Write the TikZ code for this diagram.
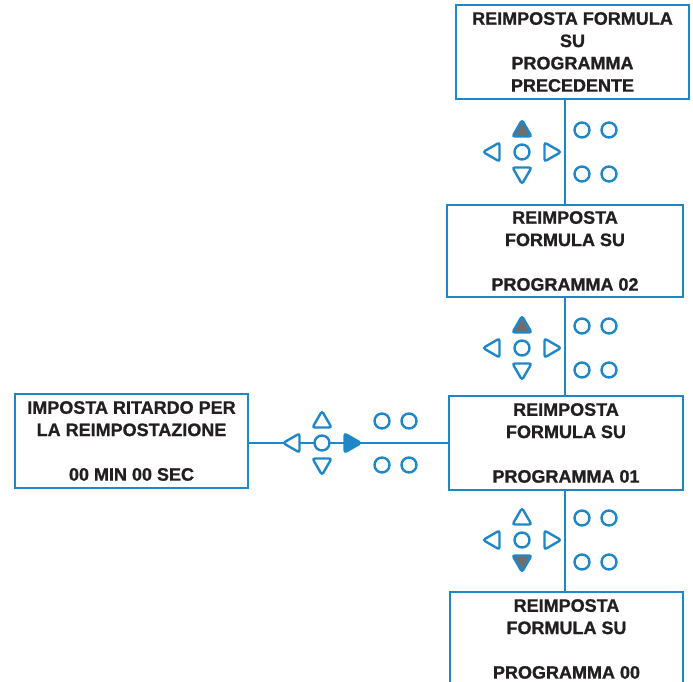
\documentclass[tikz,border=0pt]{standalone}
\usepackage{fontspec}
\setmainfont{Liberation Sans}[BoldFeatures={FakeBold=1}]
\usetikzlibrary{positioning, shapes.geometric, calc}
\definecolor{panelblue}{HTML}{1E87C8}
\definecolor{keygray}{HTML}{6E6E6E}
\definecolor{ink}{HTML}{231F20}
\tikzset{
    screen/.style={draw=panelblue, line width=2.7pt, fill=white, minimum height=94pt, align=center, text=ink, inner sep=0pt, font=\bfseries\fontsize{18}{22.3}\selectfont, execute at begin node={\rule{0pt}{17pt}}},
    wire/.style={draw=panelblue, line width=2.5pt},
    btn/.style={circle, draw=panelblue, line width=2.4pt, fill=white, minimum size=15pt, inner sep=0pt},
    tri/.style={regular polygon, regular polygon sides=3, draw=panelblue, line width=2.4pt, fill=white, minimum size=22pt, inner sep=0pt, rounded corners=2.5pt},
    pressed/.style={fill=keygray},
    active/.style={fill=panelblue},
}
\begin{document}
\begin{tikzpicture}[x=1pt, y=-1pt]
    \path[use as bounding box] (0,0) rectangle (693,682);

    % screens
    \node[screen, minimum width=233pt] (prev) at (572.5,52) {REIMPOSTA FORMULA\\SU\\PROGRAMMA\\PRECEDENTE};
    \node[screen, minimum width=236pt, minimum height=92pt] (prog02) at (565,251) {REIMPOSTA\\FORMULA SU\\[22.3pt]PROGRAMMA 02};
    \node[screen, minimum width=234pt] (prog01) at (566,443) {REIMPOSTA\\FORMULA SU\\[22.3pt]PROGRAMMA 01};
    \node[screen, minimum width=233pt] (prog00) at (566.5,639) {REIMPOSTA\\FORMULA SU\\[22.3pt]PROGRAMMA 00};
    \node[screen, minimum width=233pt] (delay) at (131.5,441) {IMPOSTA RITARDO PER\\LA REIMPOSTAZIONE\\[22.3pt]00 MIN 00 SEC};

    % links
    \draw[wire] (prog02.north) -- (prog02.north |- prev.south);
    \draw[wire] (prog02.south) -- (prog01.north -| prog02.south);
    \draw[wire] (prog02.north |- prog01.south) -- (prog02.north |- prog00.north);
    \draw[wire] (prog01.west) -- (prog01.west -| delay.east);

    % keypads
    \foreach \k/\x/\y/\u/\r/\d in {a/522/152/pressed//, b/522/348/pressed//, c/322/443//active/, d/522/540///pressed} {
        \node[btn] (\k-ok) at (\x,\y) {};
        \node[tri, \u] (\k-up) at (\x,\y-21) {};
        \node[tri, shape border rotate=180, \d] (\k-dn) at (\x,\y+21) {};
        \node[tri, shape border rotate=90] (\k-lt) at (\x-28,\y) {};
        \node[tri, shape border rotate=270, \r] (\k-rt) at (\x+28,\y) {};
        \node[btn] (\k-f1) at (\x+60,\y-22) {};
        \node[btn] (\k-f2) at (\x+87,\y-22) {};
        \node[btn] (\k-f3) at (\x+60,\y+22) {};
        \node[btn] (\k-f4) at (\x+87,\y+22) {};
    }
\end{tikzpicture}
\end{document}
